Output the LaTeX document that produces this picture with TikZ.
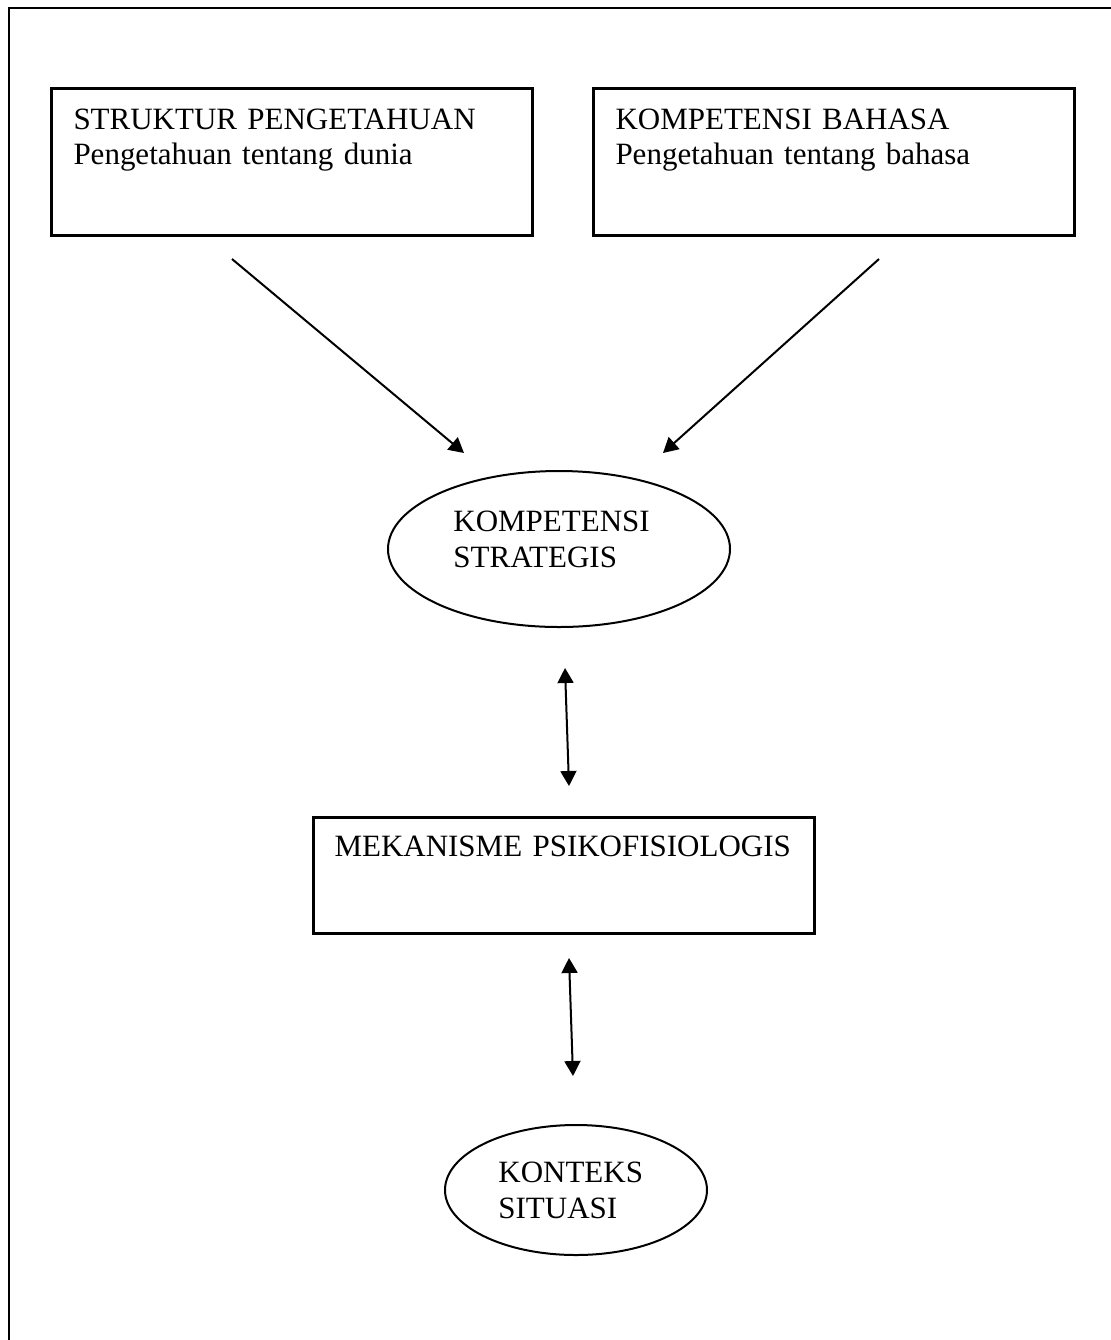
\documentclass[tikz,border=0pt]{standalone}
\usepackage{fontspec}
\setmainfont{Liberation Serif}
\usetikzlibrary{arrows.meta,positioning,shapes.geometric,calc}

\begin{document}
\begin{tikzpicture}[x=0.5pt, y=-0.5pt,
  box/.style={
    draw, line width=1.5pt, anchor=north west, align=left,
    inner xsep=11pt, inner ysep=10pt, text height=10.5pt,
    font=\fontsize{15.5pt}{17.5pt}\selectfont
  },
  oval/.style={ellipse, draw, line width=1pt, inner sep=0pt},
  txt/.style={
    anchor=base west, align=left, inner sep=0pt, text width=120pt,
    font=\fontsize{15.5pt}{18.25pt}\selectfont
  },
  arr/.style={-{Triangle[length=7.5pt,width=8pt]}, line width=1pt},
  dblarr/.style={{Triangle[length=7.5pt,width=8pt]}-{Triangle[length=7.5pt,width=8pt]}, line width=1pt}
]
  \useasboundingbox (0,0) rectangle (1110,1340);
  % page frame, open at right and bottom
  \draw[line width=1.4pt] (9,1360) -- (9,8) -- (1130,8);

  % top boxes
  \node[box, text width=218.5pt, text depth=43pt] (struktur) at (50,87)
    {STRUKTUR PENGETAHUAN\\Pengetahuan tentang dunia};
  \node[box, text width=218.5pt, text depth=43pt] (bahasa) at (592,87)
    {KOMPETENSI BAHASA\\Pengetahuan tentang bahasa};

  % strategic competence
  \node[oval, minimum width=171pt, minimum height=78pt] (strategis) at (559,549) {};
  \node[txt] (strategis text) at ($(strategis.center)+(-106,-18)$) {KOMPETENSI\\STRATEGIS};

  % psychophysiological mechanism
  \node[box, inner xsep=10.5pt, inner ysep=9pt, text width=229.5pt, text depth=29.5pt]
    (mekanisme) at (312,816) {MEKANISME PSIKOFISIOLOGIS};

  % situational context
  \node[oval, minimum width=131pt, minimum height=65pt] (konteks) at (576,1190) {};
  \node[txt] (konteks text) at ($(konteks.center)+(-78,-8)$) {KONTEKS\\SITUASI};

  % arrow ends
  \coordinate (struktur out) at (232,259);
  \coordinate (strategis inl) at (464,453);
  \coordinate (bahasa out) at (879,259);
  \coordinate (strategis inr) at (663,453);
  \coordinate (strategis low) at (565,668);
  \coordinate (mekanisme up) at (569,786);
  \coordinate (mekanisme low) at (569,958);
  \coordinate (konteks up) at (573,1076);

  \draw[arr] (struktur out) -- (strategis inl);
  \draw[arr] (bahasa out) -- (strategis inr);
  \draw[dblarr] (strategis low) -- (mekanisme up);
  \draw[dblarr] (mekanisme low) -- (konteks up);
\end{tikzpicture}
\end{document}
